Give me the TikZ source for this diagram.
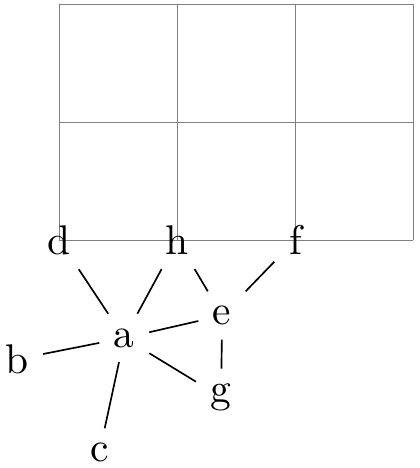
\documentclass[tikz,border=0pt]{standalone}
\usetikzlibrary{arrows}

\begin{document}
\begin{tikzpicture}[-,auto,
  vertex/.style={font=\rmfamily}]
  \useasboundingbox (-0.503,-1.932) rectangle (3.048,2.034);

  \draw[help lines] (0,0) grid (3,2);

  \node[vertex] (d) at (0,0) {d};
  \node[vertex] (h) at (1,0) {h};
  \node[vertex] (f) at (2,0) {f};
  \node[vertex] (a) at (0.55,-0.83) {a};
  \node[vertex] (b) at (-0.36,-1.01) {b};
  \node[vertex] (c) at (0.34,-1.80) {c};
  \node[vertex] (e) at (1.38,-0.64) {e};
  \node[vertex] (g) at (1.37,-1.33) {g};

  \path
    (d) edge (a)
    (h) edge (a)
    (b) edge (a)
    (c) edge (a)
    (a) edge (e)
    (a) edge (g)
    (h) edge (e)
    (f) edge (e)
    (e) edge (g)
    ;
\end{tikzpicture}
\end{document}
